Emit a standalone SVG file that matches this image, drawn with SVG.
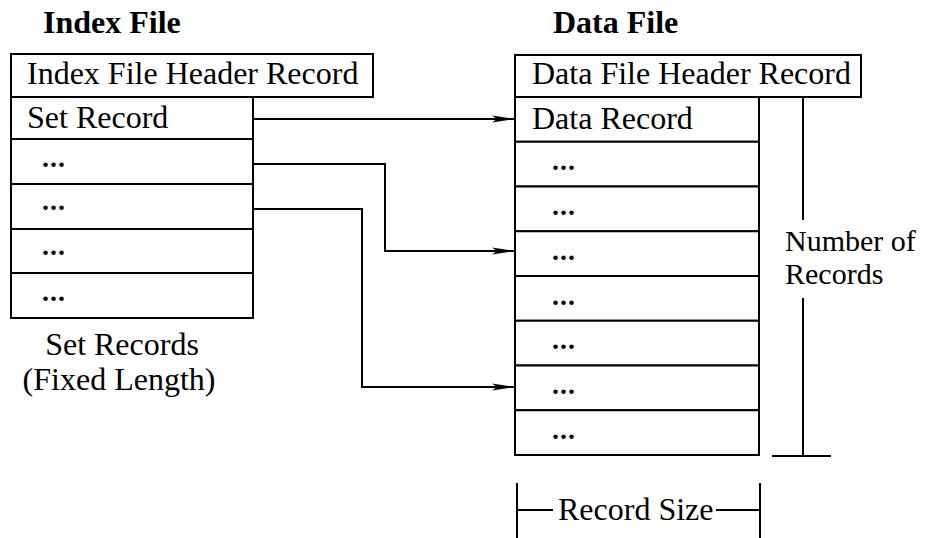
<svg xmlns="http://www.w3.org/2000/svg" width="930" height="538" viewBox="0 0 930 538">
  <style>
    .box { fill: #fff; stroke: #000; stroke-width: 2; }
    .ln { fill: none; stroke: #000; stroke-width: 2; }
    .t { font-family: "Liberation Serif", "Times New Roman", serif; font-size: 32px; fill: #000; }
    .t2 { font-family: "Liberation Serif", "Times New Roman", serif; font-size: 30px; fill: #000; }
    .title { font-family: "Liberation Serif", "Times New Roman", serif; font-size: 32px; font-weight: bold; fill: #000; }
    .dots { font-family: "Liberation Serif", "Times New Roman", serif; font-size: 28px; font-weight: bold; fill: #000; letter-spacing: 1px; }
    .mid { text-anchor: middle; }
  </style>
  <defs>
    <marker id="arrow" markerUnits="userSpaceOnUse" markerWidth="24" markerHeight="10" refX="22" refY="5" orient="auto">
      <path d="M0,1.5 L22,5 L0,8.5 L5,5 Z" fill="#000"/>
    </marker>
  </defs>
  <rect width="930" height="538" fill="#fff"/>

  <!-- Index file -->
  <g id="index-file">
    <text class="title" x="43" y="33">Index File</text>
    <g id="index-header">
      <rect class="box" x="11" y="54" width="362" height="43"/>
      <text class="t" x="27" y="84">Index File Header Record</text>
    </g>
    <g id="set-record-1">
      <rect class="box" x="11" y="97" width="242" height="42"/>
      <text class="t" x="27" y="128">Set Record</text>
    </g>
    <g id="set-record-2">
      <rect class="box" x="11" y="139" width="242" height="45"/>
      <text class="dots" x="42" y="167">...</text>
    </g>
    <g id="set-record-3">
      <rect class="box" x="11" y="184" width="242" height="45"/>
      <text class="dots" x="42" y="210">...</text>
    </g>
    <g id="set-record-4">
      <rect class="box" x="11" y="229" width="242" height="44"/>
      <text class="dots" x="42" y="255">...</text>
    </g>
    <g id="set-record-5">
      <rect class="box" x="11" y="273" width="242" height="45"/>
      <text class="dots" x="42" y="301">...</text>
    </g>
    <text class="t mid" x="122" y="355">Set Records</text>
    <text class="t mid" x="119" y="390">(Fixed Length)</text>
  </g>

  <!-- Data file -->
  <g id="data-file">
    <text class="title" x="553" y="33">Data File</text>
    <g id="data-header">
      <rect class="box" x="515" y="55" width="346" height="42"/>
      <text class="t" x="532" y="84">Data File Header Record</text>
    </g>
    <g id="data-record-1">
      <rect class="box" x="515" y="97" width="244" height="44.75"/>
      <text class="t" x="532" y="129">Data Record</text>
    </g>
    <g id="data-record-2">
      <rect class="box" x="515" y="141.75" width="244" height="44.75"/>
      <text class="dots" x="552" y="170">...</text>
    </g>
    <g id="data-record-3">
      <rect class="box" x="515" y="186.5" width="244" height="44.75"/>
      <text class="dots" x="552" y="215">...</text>
    </g>
    <g id="data-record-4">
      <rect class="box" x="515" y="231.25" width="244" height="44.75"/>
      <text class="dots" x="552" y="260">...</text>
    </g>
    <g id="data-record-5">
      <rect class="box" x="515" y="276" width="244" height="44.75"/>
      <text class="dots" x="552" y="305">...</text>
    </g>
    <g id="data-record-6">
      <rect class="box" x="515" y="320.75" width="244" height="44.75"/>
      <text class="dots" x="552" y="349">...</text>
    </g>
    <g id="data-record-7">
      <rect class="box" x="515" y="365.5" width="244" height="44.75"/>
      <text class="dots" x="552" y="394">...</text>
    </g>
    <g id="data-record-8">
      <rect class="box" x="515" y="410.25" width="244" height="44.75"/>
      <text class="dots" x="552" y="439">...</text>
    </g>
  </g>

  <!-- Dimension: number of records -->
  <g id="number-of-records">
    <path class="ln" d="M803,97 V220 M803,298 V456 M772,456 H831"/>
    <text class="t2" x="785" y="251">Number of</text>
    <text class="t2" x="785" y="284">Records</text>
  </g>

  <!-- Dimension: record size -->
  <g id="record-size">
    <path class="ln" d="M517,483 V538 M760,483 V538 M517,510 H553 M716,510 H760"/>
    <text class="t" x="558" y="520">Record Size</text>
  </g>

  <!-- Connectors -->
  <g id="connectors">
    <path class="ln" d="M253,119 H514" marker-end="url(#arrow)"/>
    <path class="ln" d="M253,164 H385 V251 H514" marker-end="url(#arrow)"/>
    <path class="ln" d="M253,209 H362 V387 H514" marker-end="url(#arrow)"/>
  </g>
</svg>
